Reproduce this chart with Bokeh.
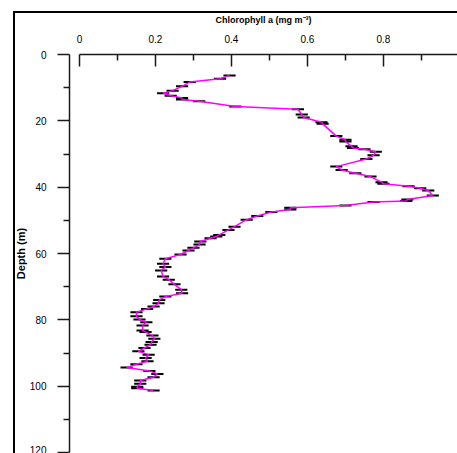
from bokeh.plotting import figure
from bokeh.models import Range1d, FixedTicker, ColumnDataSource, InlineStyleSheet
from bokeh.embed import file_html
from bokeh.resources import INLINE

# Depth (m)
depth = [6.3, 7.3, 8.3, 9.6, 10.9, 11.7, 12.4, 13.1, 13.6, 14.1, 15.7, 16.5, 18.1, 19.0,
         20.4, 20.9, 24.6, 25.7, 26.2, 27.7, 28.2, 28.6, 29.3, 30.4, 31.5, 33.8, 34.8,
         35.8, 36.8, 38.5, 39.0, 39.7, 40.3, 41.0, 42.5, 43.7, 44.2, 44.5, 45.5, 46.2,
         46.7, 47.5, 48.7, 49.8, 51.9, 52.9, 54.4, 54.9, 55.4, 56.4, 57.3, 58.3, 59.1,
         60.3, 61.6, 63.1, 64.1, 65.1, 66.9, 67.9, 69.3, 70.9, 72.0, 73.0, 74.0, 75.0,
         76.0, 76.7, 77.7, 78.9, 79.9, 80.7, 81.7, 83.2, 83.7, 84.7, 85.7, 86.7, 87.5,
         88.5, 89.5, 90.5, 91.5, 92.5, 93.4, 94.4, 95.4, 96.3, 97.3, 98.3, 99.3, 100.2,
         100.6, 101.3]
# Chlorophyll a (mg m-3)
chl = [0.395, 0.37, 0.29, 0.27, 0.245, 0.22, 0.24, 0.27, 0.27, 0.315, 0.41, 0.575, 0.585, 0.59,
       0.637, 0.64, 0.676, 0.70, 0.70, 0.716, 0.72, 0.75, 0.78, 0.774, 0.755, 0.676, 0.69,
       0.726, 0.766, 0.795, 0.80, 0.866, 0.897, 0.918, 0.93, 0.863, 0.86, 0.774, 0.70, 0.555,
       0.555, 0.505, 0.468, 0.44, 0.408, 0.392, 0.368, 0.36, 0.345, 0.318, 0.316, 0.30, 0.287,
       0.266, 0.226, 0.22, 0.226, 0.215, 0.22, 0.235, 0.25, 0.268, 0.27, 0.226, 0.21, 0.208,
       0.195, 0.178, 0.15, 0.15, 0.158, 0.176, 0.166, 0.166, 0.174, 0.192, 0.197, 0.19, 0.187,
       0.171, 0.155, 0.182, 0.174, 0.179, 0.15, 0.124, 0.184, 0.205, 0.195, 0.16, 0.16, 0.152,
       0.152, 0.195]
# Standard deviation (mg m-3)
sd = [0.016] * len(depth)

x_ticks = [0, 0.2, 0.4, 0.6, 0.8]
x_tick_labels = ["0", "0.2", "0.4", "0.6", "0.8"]
x_minor = [0.1, 0.3, 0.5, 0.7, 0.9]
y_ticks = [0, 20, 40, 60, 80, 100, 120]
y_minor = [10, 30, 50, 70, 90, 110]

src = ColumnDataSource(dict(
    depth=depth, chl=chl,
    lo=[c - s for c, s in zip(chl, sd)],
    hi=[c + s for c, s in zip(chl, sd)],
))

FONT = "Liberation Sans"
AX = "#1a1a1a"

p = figure(width=457, height=453, output_backend="svg", toolbar_location=None,
           x_range=Range1d(-0.0263, 0.995), y_range=Range1d(120, 0),
           x_axis_location="above",
           min_border_left=69, min_border_top=54, min_border_right=0, min_border_bottom=1)
p.xgrid.visible = False
p.ygrid.visible = False
p.outline_line_color = None
p.background_fill_color = "white"
p.border_fill_color = "white"

xa = p.xaxis[0]
xa.ticker = FixedTicker(ticks=x_ticks, minor_ticks=x_minor)
xa.major_label_overrides = dict(zip(x_ticks, x_tick_labels))
xa.bounds = (0, 1)
xa.major_tick_in = 12
xa.major_tick_out = 0
xa.minor_tick_in = 6
xa.minor_tick_out = 0
xa.major_label_standoff = 12
xa.axis_label = "Chlorophyll a (mg m\u207b\u00b3)"
xa.axis_label_text_font = FONT
xa.axis_label_text_font_size = "9px"
xa.axis_label_text_font_style = "bold"
xa.axis_label_standoff = 7

ya = p.yaxis[0]
ya.ticker = FixedTicker(ticks=y_ticks, minor_ticks=y_minor)
ya.major_tick_in = 0
ya.major_tick_out = 12
ya.minor_tick_in = 0
ya.minor_tick_out = 6
ya.major_label_standoff = 11
ya.axis_label = "Depth (m)"
ya.axis_label_text_font = FONT
ya.axis_label_text_font_size = "11px"
ya.axis_label_text_font_style = "bold"
ya.axis_label_standoff = 0

for ax in (xa, ya):
    ax.axis_line_color = AX
    ax.axis_line_width = 1.5
    ax.major_tick_line_color = AX
    ax.major_tick_line_width = 1.5
    ax.minor_tick_line_color = AX
    ax.minor_tick_line_width = 1.5
    ax.major_label_text_font = FONT
    ax.major_label_text_font_size = "10px"
    ax.major_label_text_color = "black"
    ax.axis_label_text_color = "black"

# error bars
p.segment(x0="lo", x1="hi", y0="depth", y1="depth", source=src,
          line_color="black", line_width=2)
# profile line
p.line(x="chl", y="depth", source=src, line_color="#ff00ff", line_width=1.5)

# outer figure frame (left and top edges visible in the crop)
p.stylesheets = [InlineStyleSheet(css=(
    ":host::after { content: ''; position: absolute; left: 13px; top: 11px; "
    "right: 0; bottom: 0; border-left: 2.5px solid black; border-top: 2.5px solid black; "
    "pointer-events: none; z-index: 5; }"
))]

open("out.html", "w").write(file_html(p, INLINE))
